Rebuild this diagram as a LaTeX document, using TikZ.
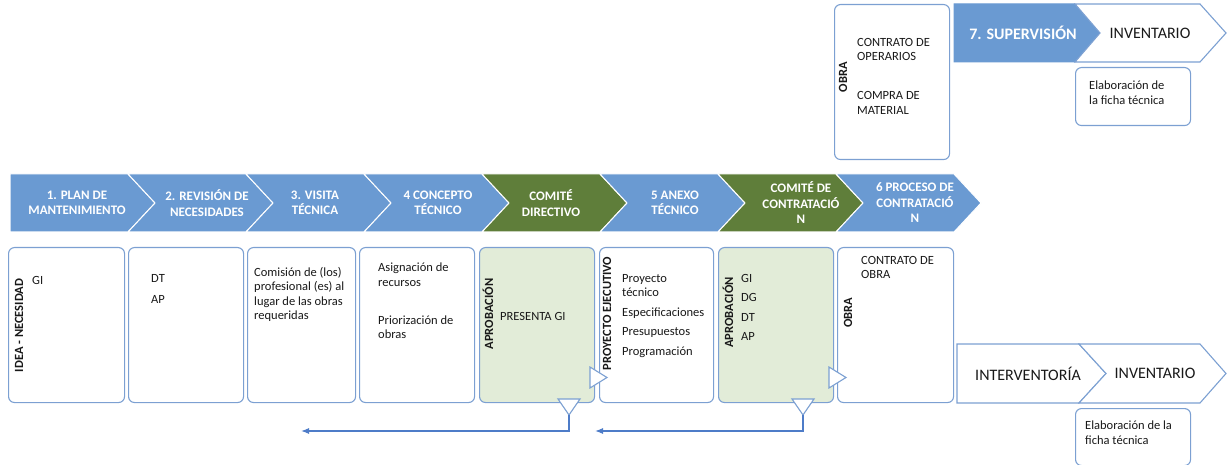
\documentclass[tikz,border=0pt]{standalone}
\usepackage{fontspec}
\setmainfont{Carlito}
\usetikzlibrary{arrows.meta}
\definecolor{cblue}{RGB}{106,154,210}
\definecolor{cgreen}{RGB}{95,126,58}
\definecolor{cbord}{RGB}{124,160,210}
\definecolor{cgreenl}{RGB}{226,236,216}
\definecolor{carrow}{RGB}{78,124,200}
\definecolor{ctext}{RGB}{25,25,25}
\tikzset{
  chevb/.style={fill=cblue, draw=white, line width=1pt, line join=miter},
  chevg/.style={fill=cgreen, draw=white, line width=1pt, line join=miter},
  chevw/.style={fill=white, draw=cbord, line width=1.1pt, line join=miter},
  chevtxt/.style={text=white, font=\bfseries\fontsize{13}{15.5}\selectfont, align=center, inner sep=0},
  bigtxt/.style={text=ctext, font=\fontsize{16}{18}\selectfont, inner sep=0},
  box/.style={draw=cbord, line width=1.1pt, rounded corners=6pt, fill=white, anchor=north west, inner sep=0},
  boxg/.style={box, fill=cgreenl},
  txt/.style={font=\fontsize{12.5}{14.5}\selectfont, text=ctext, align=left, anchor=north west, inner sep=0, execute at begin node=\strut},
  vtxt/.style={font=\bfseries\fontsize{12.5}{14}\selectfont, text=ctext, rotate=90, inner sep=0},
  tri/.style={fill=white, draw=cbord, line width=1.1pt, line join=miter},
  fb/.style={draw=carrow, line width=1.1pt, -{Latex[length=8pt,width=6pt]}}
}
\begin{document}
\begin{tikzpicture}[x=1pt,y=-1pt]
\useasboundingbox (0,0) rectangle (1227,465);

% ---- main chevron row ----
\draw[chevb] (10,174) -- (128,174) -- (155,203) -- (128,232) -- (10,232) -- cycle;
\draw[chevb] (128,174) -- (246,174) -- (273,203) -- (246,232) -- (128,232) -- (155,203) -- cycle;
\draw[chevb] (246,174) -- (364,174) -- (391,203) -- (364,232) -- (246,232) -- (273,203) -- cycle;
\draw[chevb] (364,174) -- (482,174) -- (509,203) -- (482,232) -- (364,232) -- (391,203) -- cycle;
\draw[chevg] (482,174) -- (600,174) -- (627,203) -- (600,232) -- (482,232) -- (509,203) -- cycle;
\draw[chevb] (600,174) -- (718,174) -- (745,203) -- (718,232) -- (600,232) -- (627,203) -- cycle;
\draw[chevg] (718,174) -- (836,174) -- (863,203) -- (836,232) -- (718,232) -- (745,203) -- cycle;
\draw[chevb] (836,174) -- (954,174) -- (981,203) -- (954,232) -- (836,232) -- (863,203) -- cycle;

\node[chevtxt] (c1) at (77,203) {1. PLAN DE\\MANTENIMIENTO};
\node[chevtxt] (c2) at (207,203) {2. REVISIÓN DE\\NECESIDADES};
\node[chevtxt] (c3) at (315,203) {3. VISITA\\TÉCNICA};
\node[chevtxt] (c4) at (438,203) {4 CONCEPTO\\TÉCNICO};
\node[chevtxt] (c5) at (551,203) {COMITÉ\\DIRECTIVO};
\node[chevtxt] (c6) at (675,203) {5 ANEXO\\TÉCNICO};
\node[chevtxt] (c7) at (801,203) {COMITÉ DE\\CONTRATACIÓ\\N};
\node[chevtxt] (c8) at (915,203) {6 PROCESO DE\\CONTRATACIÓ\\N};

% ---- boxes below ----
\node[box, minimum width=116pt, minimum height=155pt] (b1) at (8,247) {};
\node[box, minimum width=115pt, minimum height=155pt] (b2) at (128,247) {};
\node[box, minimum width=108pt, minimum height=155pt] (b3) at (247,247) {};
\node[box, minimum width=115pt, minimum height=155pt] (b4) at (359,247) {};
\node[boxg, minimum width=115pt, minimum height=155pt] (b5) at (479,247) {};
\node[box, minimum width=114pt, minimum height=155pt] (b6) at (599,247) {};
\node[boxg, minimum width=115pt, minimum height=155pt] (b7) at (718,247) {};
\node[box, minimum width=116pt, minimum height=155pt] (b8) at (837,247) {};

\node[vtxt] (v1) at (19,325.5) {IDEA - NECESIDAD};
\node[txt] (t1) at (32,274.5) {GI};
\node[txt] (t2) at (151,274) {DT\\[6.5pt]AP};
\node[txt] (t3) at (254,267) {Comisión de (los)\\profesional (es) al\\lugar de las obras\\requeridas};
\node[txt] (t4) at (378,263) {Asignación de\\recursos\\[23.5pt]Priorización de\\obras};
\node[vtxt] (v5) at (488,314) {APROBACIÓN};
\node[txt] (t5) at (500,310) {PRESENTA GI};
\node[vtxt] (v6) at (607,313.5) {PROYECTO EJECUTIVO};
\node[txt] (t6) at (622,274) {Proyecto\\técnico\\[5pt]Especificaciones\\[5pt]Presupuestos\\[5pt]Programación};
\node[vtxt] (v7) at (728,312.5) {APROBACIÓN};
\node[txt] (t7) at (741,274) {GI\\[5pt]DG\\[5pt]DT\\[5pt]AP};
\node[vtxt] (v8) at (848,312.5) {OBRA};
\node[txt] (t8) at (861,256) {CONTRATO DE\\OBRA};

% ---- small triangles ----
\draw[tri] (590,367) -- (607,377.5) -- (590,388) -- cycle;
\draw[tri] (829,367) -- (846,377.5) -- (829,388) -- cycle;
\draw[tri] (558,399) -- (580,399) -- (569,415) -- cycle;
\draw[tri] (792,399) -- (814,399) -- (803,415) -- cycle;

\coordinate (d5) at (569,415);
\coordinate (d7) at (803,415);
\coordinate (e5) at (301,431);
\coordinate (e7) at (595,431);
\draw[fb] (d5) |- (e5);
\draw[fb] (d7) |- (e7);

% ---- bottom right ----
\draw[chevw] (957,344) -- (1079,344) -- (1106,373.5) -- (1079,403) -- (957,403) -- cycle;
\draw[chevw] (1079,344) -- (1200,344) -- (1226,373.5) -- (1200,403) -- (1079,403) -- (1106,373.5) -- cycle;
\node[bigtxt] (i1) at (1028,373.5) {INTERVENTORÍA};
\node[bigtxt] (i2) at (1155,373.5) {INVENTARIO};
\node[box, minimum width=115pt, minimum height=57pt] (e1) at (1075,408) {};
\node[txt] (te1) at (1085,421) {Elaboración de la\\ficha técnica};

% ---- top right ----
\node[box, minimum width=115pt, minimum height=155pt] (ob) at (834,4) {};
\node[vtxt] (vo) at (843,77) {OBRA};
\node[txt] (to) at (857,38) {CONTRATO DE\\OPERARIOS\\[24.5pt]COMPRA DE\\MATERIAL};
\draw[fill=cblue, draw=cblue, line width=1pt, line join=miter] (954,4) -- (1075,4) -- (1100,33) -- (1075,62) -- (954,62) -- cycle;
\draw[chevw] (1075,4) -- (1200,4) -- (1226,33) -- (1200,62) -- (1075,62) -- (1100,33) -- cycle;
\node[bigtxt, text=white, font=\bfseries\fontsize{16}{18}\selectfont] (s7) at (1023,33) {7. SUPERVISIÓN};
\node[bigtxt] (i3) at (1150,33) {INVENTARIO};
\node[box, minimum width=115pt, minimum height=58pt] (e2) at (1075,67) {};
\node[txt] (te2) at (1089,81) {Elaboración de\\la ficha técnica};
\end{tikzpicture}
\end{document}
